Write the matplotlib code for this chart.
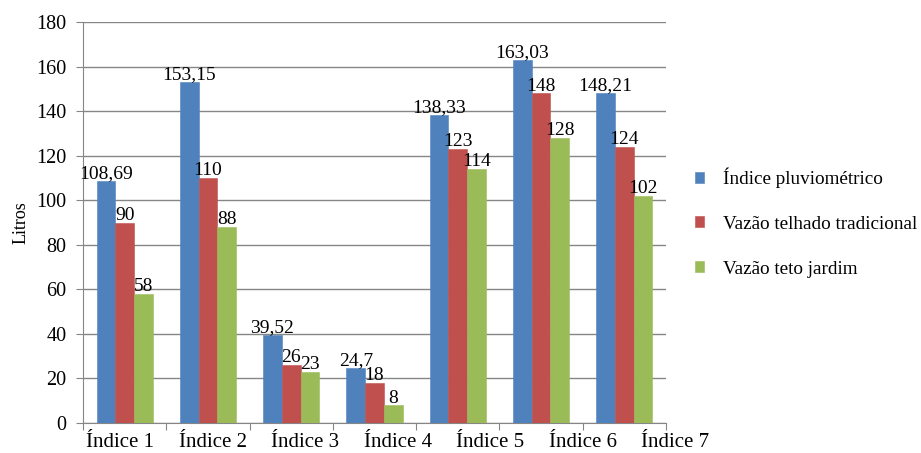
import numpy as np
import matplotlib
matplotlib.use("Agg")
from matplotlib import pyplot as plt

# valores por índice (litros)
categorias = ["Índice 1", "Índice 2", "Índice 3", "Índice 4", "Índice 5", "Índice 6", "Índice 7"]
pluviometrico = [108.69, 153.15, 39.52, 24.7, 138.33, 163.03, 148.21]
telhado_tradicional = [90, 110, 26, 18, 123, 148, 124]
teto_jardim = [58, 88, 23, 8, 114, 128, 102]
rotulos_pluv = ["108,69", "153,15", "39,52", "24,7", "138,33", "163,03", "148,21"]

series = [
    ("Índice pluviométrico", pluviometrico, "#4F81BD"),
    ("Vazão telhado tradicional", telhado_tradicional, "#C0504D"),
    ("Vazão teto jardim", teto_jardim, "#9BBB59"),
]

plt.rcParams['font.family'] = ['Liberation Serif', 'DejaVu Serif']

fig = plt.figure(figsize=(9.21, 4.53), dpi=100)
ax = fig.add_axes([83/921, 1-423/453, (666-83)/921, (423-22)/453])

x = np.arange(len(categorias))
w = 0.225
for k, (nome, vals, cor) in enumerate(series):
    pos = x + (k - 1) * w
    ax.bar(pos, vals, w, color=cor, edgecolor=cor, linewidth=0.4, label=nome, zorder=3)
    for i, v in enumerate(vals):
        txt = rotulos_pluv[i] if k == 0 else f"{v:g}"
        ax.annotate(txt, (pos[i], v), xytext=(0, -1), textcoords="offset points",
                    ha="center", va="bottom", fontsize=14, zorder=4)

ax.set_xlim(-0.5, len(categorias) - 0.5)
ax.set_ylim(0, 180)
ax.set_yticks(np.arange(0, 181, 20))
ax.yaxis.grid(True, color="#868686", linewidth=1, zorder=0)
ax.tick_params(axis="y", labelsize=14.5, length=5, color="#868686", direction="out", pad=7)

# marcas nas divisas das categorias, rótulos escritos à parte
ax.set_xticks(np.arange(-0.5, len(categorias), 1))
ax.set_xticklabels([])
ax.tick_params(axis="x", length=5, color="#868686", direction="out")
for i, nome in enumerate(categorias):
    ax.text(i * 1.11 - 0.05, -10.6, nome, ha="center", va="baseline", fontsize=15,
            clip_on=False)

for s in ["top", "right"]:
    ax.spines[s].set_visible(False)
for s in ["left", "bottom"]:
    ax.spines[s].set_color("#868686")

ax.set_ylabel("Litros", fontsize=13, labelpad=5)

leg = ax.legend(loc="center left", bbox_to_anchor=(1.02, 0.5), frameon=False,
                fontsize=13.8, handlelength=0.5, handleheight=0.5,
                labelspacing=1.45, handletextpad=0.95)

fig.savefig("out.png", dpi=100)
